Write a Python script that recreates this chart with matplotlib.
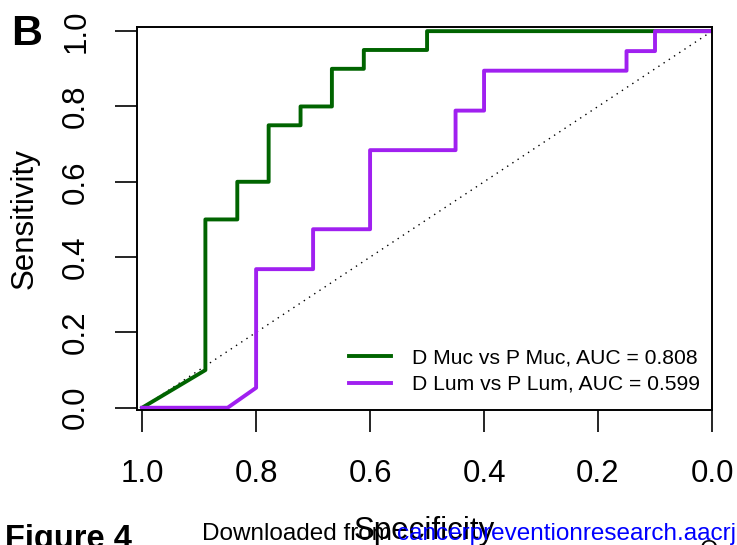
import matplotlib
matplotlib.use("Agg")
import matplotlib.pyplot as plt

plt.rcParams["font.family"] = ["Liberation Sans", "DejaVu Sans"]

# ROC curve steps (specificity, sensitivity)
MUC_SPEC = [1.0, 0.889, 0.889, 0.833, 0.833, 0.778, 0.778, 0.722, 0.722,
            0.667, 0.667, 0.611, 0.611, 0.5, 0.5, 0.0]
MUC_SENS = [0.0, 0.10, 0.50, 0.50, 0.60, 0.60, 0.75, 0.75, 0.80,
            0.80, 0.90, 0.90, 0.95, 0.95, 1.0, 1.0]
LUM_SPEC = [1.0, 0.85, 0.80, 0.80, 0.70, 0.70, 0.60, 0.60, 0.45,
            0.45, 0.40, 0.40, 0.15, 0.15, 0.10, 0.10, 0.0]
LUM_SENS = [0.0, 0.0, 0.053, 0.368, 0.368, 0.474, 0.474, 0.684, 0.684,
            0.789, 0.789, 0.895, 0.895, 0.947, 0.947, 1.0, 1.0]
LABELS = ["D Muc vs P Muc, AUC = 0.808", "D Lum vs P Lum, AUC = 0.599"]
COLORS = ["#006400", "#A020F0"]
TICKS = [1.0, 0.8, 0.6, 0.4, 0.2, 0.0]

W, H = 737, 545
fig = plt.figure(figsize=(W / 100, H / 100), dpi=100)
ax = fig.add_axes([137 / W, 1 - 410 / H, (712 - 137) / W, (410 - 27) / H])

ax.plot([1, 0], [0, 1], color="black", lw=1.0, ls=(0, (1, 3.5)))
ax.plot(MUC_SPEC, MUC_SENS, color=COLORS[0], lw=2.8, label=LABELS[0])
ax.plot(LUM_SPEC, LUM_SENS, color=COLORS[1], lw=2.8, label=LABELS[1])

ax.set_xlim(1.009, 0.0)
ax.set_ylim(-0.006, 1.011)
ax.set_xticks(TICKS)
ax.set_xticklabels([f"{t:.1f}" for t in TICKS])
ax.set_yticks(TICKS)
ax.set_yticklabels([f"{t:.1f}" for t in TICKS], rotation=90, va="center")
ax.tick_params(axis="both", direction="out", length=16, width=1.2,
               labelsize=22.5)
ax.tick_params(axis="x", pad=19)
ax.tick_params(axis="y", pad=17)
for sp in ax.spines.values():
    sp.set_linewidth(1.4)

leg = ax.legend(loc="lower right", bbox_to_anchor=(0.993, 0.02),
                frameon=False, fontsize=15.2, handlelength=2.0,
                handletextpad=0.95, labelspacing=0.36, borderaxespad=0)

fig.text(25 / W, 1 - 219 / H, "Sensitivity", fontsize=22.5, rotation=90,
         ha="center", va="center")
fig.text(11 / W, 1 - 14 / H, "B", fontsize=31, fontweight="bold",
         va="top", ha="left")
fig.text(202 / W, 1 - 540 / H, "Downloaded from ", fontsize=17.5,
         ha="left", va="baseline")
fig.text(424 / W, 1 - 539 / H, "Specificity", fontsize=22.5,
         ha="center", va="baseline")
fig.text(397 / W, 1 - 540 / H, "cancerpreventionresearch.aacrjournals.org",
         fontsize=17.5, ha="left", va="baseline", color="#0000FF")
fig.text(5 / W, 1 - 524 / H, "Figure 4", fontsize=23.5, fontweight="bold",
         ha="left", va="top")
fig.text(700 / W, 1 - 540 / H, "O", fontsize=17, ha="left", va="top")

fig.savefig("out.png", dpi=100)
